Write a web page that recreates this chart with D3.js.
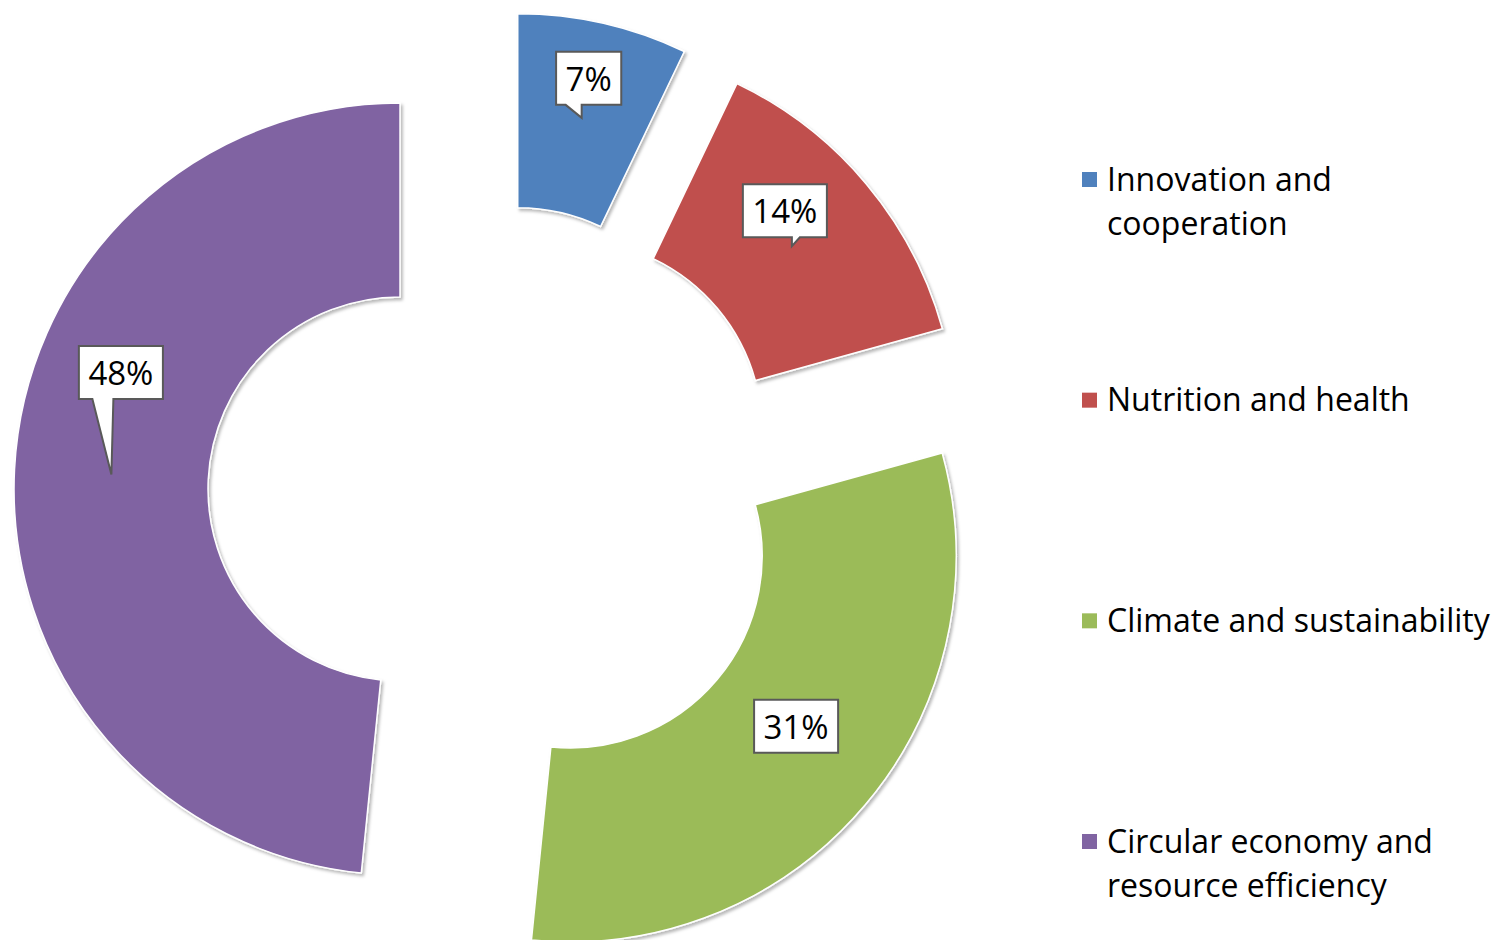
<!DOCTYPE html>
<html>
<head>
<meta charset="utf-8">
<script src="https://cdn.jsdelivr.net/npm/d3@7"></script>
<style>
  html, body { margin: 0; padding: 0; background: #fff; }
  svg { display: block; font-family: "Open Sans", "Noto Sans", sans-serif; }
</style>
</head>
<body>
<svg id="chart" width="1493" height="940"></svg>
<script>
// ---- data ----
const categories = ["Innovation and cooperation", "Nutrition and health", "Climate and sustainability", "Circular economy and resource efficiency"];
const values = [7.1, 13.6, 30.9, 48.4];
const labels = ["7%", "14%", "31%", "48%"];
const colors = ["#4F81BD", "#C0504D", "#9BBB59", "#8064A2"];

// ---- layout ----
const W = 1493, H = 940;
const cx = 496.4, cy = 493.8;
const outerR = 386, innerR = 192, explode = 96.5;
// callout box offsets relative to the centroid (tip), and tail base relative to tip x
const calloutLayout = [
  { dx: 7,   dy: -39.5, tail: [-16, 0] },
  { dx: -7,  dy: -35.5, tail: [0, 8] },
  { dx: 5,   dy: -16,   tail: [0, 0] },
  { dx: 9.5, dy: -102,  tail: [-19, 2] }
];

const svg = d3.select("#chart");
const defs = svg.append("defs");
const f = defs.append("filter").attr("id", "shadow").attr("x", "-10%").attr("y", "-10%").attr("width", "120%").attr("height", "120%");
f.append("feDropShadow").attr("dx", 2).attr("dy", 2.5).attr("stdDeviation", 1.8).attr("flood-color", "#000").attr("flood-opacity", 0.28);

const pie = d3.pie().sort(null).value(d => d);
const arcs = pie(values);
const arc = d3.arc().innerRadius(innerR).outerRadius(outerR);

const g = svg.append("g").attr("transform", `translate(${cx},${cy})`);

function offset(a) {
  const mid = (a.startAngle + a.endAngle) / 2;
  return [Math.sin(mid) * explode, -Math.cos(mid) * explode];
}

g.selectAll("path.slice")
  .data(arcs)
  .join("path")
  .attr("class", "slice")
  .attr("transform", d => { const o = offset(d); return `translate(${o[0]},${o[1]})`; })
  .attr("d", arc)
  .attr("fill", (d, i) => colors[i])
  .attr("stroke", "#fff")
  .attr("stroke-width", 1.5)
  .attr("filter", "url(#shadow)");

// callouts
const fontSize = 33;
arcs.forEach((a, i) => {
  const o = offset(a);
  const c = arc.centroid(a);
  const tipX = o[0] + c[0], tipY = o[1] + c[1];
  const L = calloutLayout[i];
  const bcx = tipX + L.dx, bcy = tipY + L.dy;
  const grp = g.append("g");
  const t = grp.append("text")
    .attr("x", bcx).attr("y", bcy)
    .attr("text-anchor", "middle")
    .attr("dominant-baseline", "central")
    .attr("font-size", fontSize)
    .attr("fill", "#000")
    .text(labels[i]);
  const tw = t.node().getComputedTextLength();
  const bw = tw + 19, bh = 53;
  const x0 = bcx - bw / 2, x1 = bcx + bw / 2, y0 = bcy - bh / 2, y1 = bcy + bh / 2;
  const tl = Math.max(x0 + 1, tipX + L.tail[0]), tr = Math.min(x1 - 1, tipX + L.tail[1]);
  let p = `M${x0},${y0}H${x1}V${y1}`;
  if (tipY > y1 + 1) p += `H${tr}L${tipX},${tipY}L${tl},${y1}`;
  p += `H${x0}Z`;
  grp.insert("path", "text")
    .attr("d", p)
    .attr("fill", "#fff")
    .attr("stroke", "#595959")
    .attr("stroke-width", 2)
    .attr("stroke-linejoin", "miter");
});

// legend
const legendX = 1082, textX = 1107, legFont = 32, lineH = 44, maxW = 390;
const ly = d3.scalePoint().domain(categories).range([179.5, 841.5]);
const leg = svg.append("g");
categories.forEach((cat, i) => {
  const y = ly(cat);
  leg.append("rect").attr("x", legendX).attr("y", y - 7.5).attr("width", 15).attr("height", 15).attr("fill", colors[i]);
  const t = leg.append("text").attr("x", textX).attr("y", y - 2).attr("font-size", legFont).attr("fill", "#000")
    .attr("dominant-baseline", "central");
  // word wrap
  const words = cat.split(" ");
  let lines = [], cur = "";
  const probe = leg.append("text").attr("font-size", legFont);
  words.forEach(w => {
    const test = cur ? cur + " " + w : w;
    probe.text(test);
    if (probe.node().getComputedTextLength() > maxW && cur) { lines.push(cur); cur = w; }
    else cur = test;
  });
  lines.push(cur);
  probe.remove();
  lines.forEach((ln, k) => {
    t.append("tspan").attr("x", textX).attr("y", y - 2 + k * lineH).text(ln);
  });
});
</script>
</body>
</html>
